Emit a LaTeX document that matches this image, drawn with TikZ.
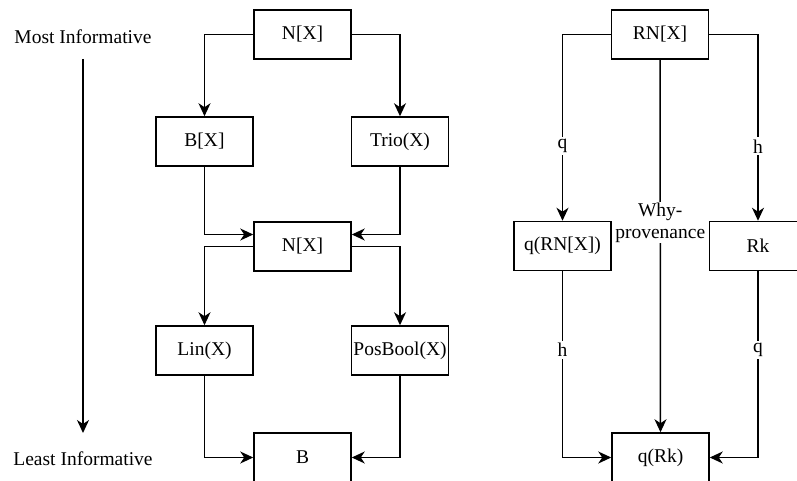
\documentclass[tikz,border=0pt]{standalone}
\usepackage{fontspec}
\setmainfont{Liberation Serif}
\usetikzlibrary{arrows.meta}
\begin{document}
\begin{tikzpicture}[x=1pt, y=-1pt,
  every node/.style={font=\fontsize{19.5}{22}\selectfont},
  box/.style={draw, line width=1.5pt, minimum width=97pt, minimum height=49pt, inner sep=0pt},
  arr/.style={line width=1.5pt, -{Stealth[length=13pt, width=12pt, inset=4pt]}},
  lbl/.style={fill=white, inner sep=2pt}]
\useasboundingbox (0,0) rectangle (797,481);

% scale of information content
\node (most)  at (83,37)  {Most Informative};
\node (least) at (83,459) {Least Informative};
\coordinate (scaletop) at (83,59);
\coordinate (scalebot) at (83,433);
\draw[arr] (scaletop) -- (scalebot);

% semiring hierarchy
\node[box] (n1)   at (302.5,34.5)  {N[X]};
\node[box] (bx)   at (204.5,141.5) {B[X]};
\node[box] (trio) at (400,141.5)   {Trio(X)};
\node[box] (n2)   at (302.5,246.5) {N[X]};
\node[box] (lin)  at (204.5,350.5) {Lin(X)};
\node[box] (pos)  at (400,350.5)   {PosBool(X)};
\node[box] (b)    at (302.5,457.5) {B};

\draw[arr] (n1.west) -| (bx.north);
\draw[arr] (n1.east) -| (trio.north);
\draw[arr] (bx.south) |- ([yshift=12pt]n2.west);
\draw[arr] (trio.south) |- ([yshift=12pt]n2.east);
\draw[arr] (n2.west) -| (lin.north);
\draw[arr] (n2.east) -| (pos.north);
\draw[arr] (lin.south) |- (b.west);
\draw[arr] (pos.south) |- (b.east);

% commuting square for ranked provenance
\node[box] (rn)  at (660,34.5)  {RN[X]};
\node[box] (qrn) at (562.5,246) {q(RN[X])};
\node[box] (rk)  at (758,246)   {Rk};
\node[box] (qrk) at (660.5,457.5) {q(Rk)};

\draw[arr] (rn.west) -| node[lbl, pos=0.8] {q} (qrn.north);
\draw[arr] (rn.east) -| node[lbl, pos=0.8] {h} (rk.north);
\draw[arr] (rn.south) -- node[lbl, pos=0.437, align=center, inner sep=1pt] {Why-\\provenance} (qrk.north);
\draw[arr] (qrn.south) |- node[lbl, pos=0.212] {h} (qrk.west);
\draw[arr] (rk.south) |- node[lbl, pos=0.212] {q} (qrk.east);
\end{tikzpicture}
\end{document}
